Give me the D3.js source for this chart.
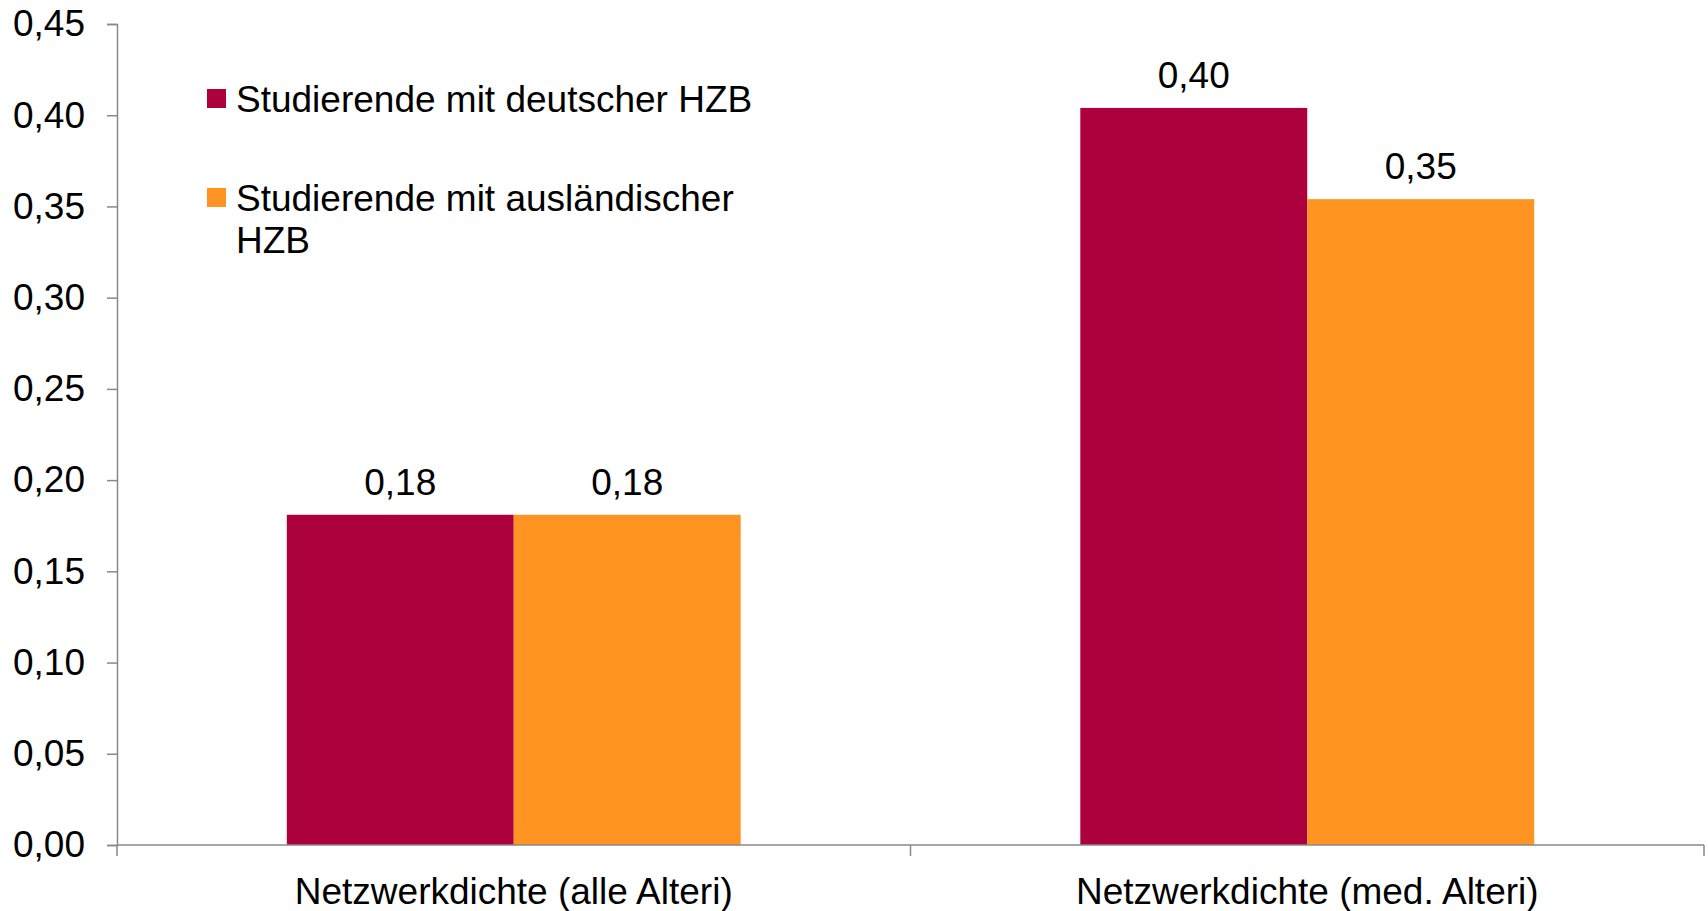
<!DOCTYPE html>
<html>
<head>
<meta charset="utf-8">
<script src="https://cdn.jsdelivr.net/npm/d3@7"></script>
<style>
  body { margin: 0; background: #fff; }
  text { font-family: "Liberation Sans", Arial, sans-serif; fill: #000; }
</style>
</head>
<body>
<svg id="chart" width="1708" height="911"></svg>
<script>
// data
var categories = ["Netzwerkdichte (alle Alteri)", "Netzwerkdichte (med. Alteri)"];
var seriesNames = ["Studierende mit deutscher HZB", "Studierende mit ausländischer HZB"];
var deutsch = [0.181, 0.404];
var auslaendisch = [0.181, 0.354];
var yTicks = [0, 0.05, 0.10, 0.15, 0.20, 0.25, 0.30, 0.35, 0.40, 0.45];
var colors = ["#ad003f", "#ff9422"];

chart()

function chart() {
    var svg1 = d3.select("#chart")
    var margin = { top: 24, right: 4, bottom: 66, left: 117 };
    var width = 1708 - margin.left - margin.right;
    var height = 911 - margin.top - margin.bottom;
    var fontSize = "37px";
    var svg = svg1.append("g")
        .attr("transform", "translate(" + margin.left + "," + margin.top + ")");

    var values = [deutsch, auslaendisch];
    var data = categories.map(function(c, i) {
        return { cat: c, vals: values.map(function(s) { return s[i]; }) };
    });

    //x scales
    var x0 = d3.scaleBand()
        .domain(categories)
        .range([0, width])
        .paddingInner(0.428)
        .paddingOuter(0.214);
    var x1 = d3.scaleBand()
        .domain(d3.range(seriesNames.length))
        .range([0, x0.bandwidth()]);

    //y scale
    var y = d3.scaleLinear()
        .domain([0, 0.45])
        .range([height, 0]);

    var fmt = function(d) { return d3.format(".2f")(d).replace(".", ","); };

    //y axis
    var yAxis = d3.axisLeft(y)
        .tickValues(yTicks)
        .tickSize(10)
        .tickPadding(22)
        .tickFormat(fmt);
    var gy = svg.append("g").call(yAxis);
    gy.select(".domain").attr("stroke", "#898989").attr("stroke-width", 1.5);
    gy.selectAll(".tick line").attr("stroke", "#898989").attr("stroke-width", 1.5);
    gy.selectAll(".tick text").style("font-size", fontSize).attr("fill", "#000");

    //bars
    var groups = svg.selectAll(".grp")
        .data(data)
        .enter()
        .append("g")
        .attr("class", "grp")
        .attr("transform", function(d) { return "translate(" + x0(d.cat) + ",0)"; });

    groups.selectAll("rect")
        .data(function(d) { return d.vals; })
        .enter()
        .append("rect")
        .attr("x", function(d, i) { return x1(i); })
        .attr("y", function(d) { return y(d); })
        .attr("width", x1.bandwidth())
        .attr("height", function(d) { return height - y(d); })
        .attr("fill", function(d, i) { return colors[i]; });

    //value labels
    groups.selectAll(".val")
        .data(function(d) { return d.vals; })
        .enter()
        .append("text")
        .attr("class", "val")
        .attr("x", function(d, i) { return x1(i) + x1.bandwidth() / 2; })
        .attr("y", function(d) { return y(d) - 20; })
        .attr("text-anchor", "middle")
        .style("font-size", fontSize)
        .text(fmt);

    //x axis line and category ticks
    var xa = svg.append("g").attr("transform", "translate(0," + height + ")");
    xa.append("line")
        .attr("x1", 0).attr("x2", width)
        .attr("stroke", "#898989").attr("stroke-width", 1.5);
    var bounds = categories.map(function(c) { return x0(c) - x0.step() * x0.paddingOuter(); });
    bounds.push(width);
    xa.selectAll(".xt")
        .data(bounds)
        .enter()
        .append("line")
        .attr("x1", function(d) { return d; })
        .attr("x2", function(d) { return d; })
        .attr("y1", 0).attr("y2", 11)
        .attr("stroke", "#898989").attr("stroke-width", 1.5);
    xa.selectAll(".cat")
        .data(categories)
        .enter()
        .append("text")
        .attr("x", function(d) { return x0(d) + x0.bandwidth() / 2; })
        .attr("y", 59)
        .attr("text-anchor", "middle")
        .style("font-size", fontSize)
        .text(function(d) { return d; });

    //legend
    var legend = svg1.append("g").attr("class", "legend");
    var legendItems = [
        { lines: ["Studierende mit deutscher HZB"], y: 89 },
        { lines: ["Studierende mit ausländischer", "HZB"], y: 188 }
    ];
    legendItems.forEach(function(it, i) {
        legend.append("rect")
            .attr("x", 207).attr("y", it.y)
            .attr("width", 19).attr("height", 19)
            .attr("fill", colors[i]);
        var t = legend.append("text")
            .attr("x", 236).attr("y", it.y + 23)
            .style("font-size", fontSize);
        it.lines.forEach(function(l, j) {
            t.append("tspan").attr("x", 236).attr("dy", j == 0 ? 0 : 42).text(l);
        });
    });
}
</script>
</body>
</html>
